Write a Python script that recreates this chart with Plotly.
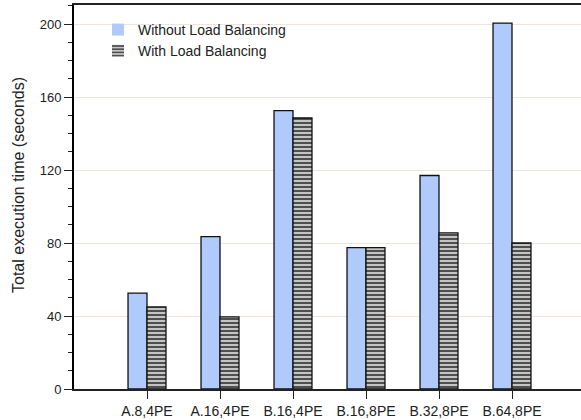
import plotly.graph_objects as go

categories = ["A.8,4PE", "A.16,4PE", "B.16,4PE", "B.16,8PE", "B.32,8PE", "B.64,8PE"]
without_lb = [52.5, 83.5, 152.5, 77.5, 117, 200.5]
with_lb = [45, 39.5, 148.5, 77.5, 85.5, 80]
positions = [1, 2, 3, 4, 5, 6]

FONT = "Liberation Sans, Arial, Helvetica, sans-serif"
BLUE = "#b0cbfb"
HATCH = dict(shape="-", fgcolor="#000000", bgcolor="#c4c4c4", size=4, solidity=0.3, fillmode="replace")
BAR_W = 0.26

fig = go.Figure()
fig.add_trace(go.Bar(
    x=positions, y=without_lb, name="Without Load Balancing", showlegend=False,
    width=BAR_W, offset=-BAR_W,
    marker=dict(color=BLUE, line=dict(color="#111111", width=1.3)),
))
fig.add_trace(go.Bar(
    x=positions, y=with_lb, name="With Load Balancing", showlegend=False,
    width=BAR_W, offset=0,
    marker=dict(color="#c4c4c4", line=dict(color="#111111", width=1.3), pattern=HATCH),
))
# legend-only entries (no outline on swatches, as in the reference)
fig.add_trace(go.Bar(
    x=[None], y=[None], name="Without Load Balancing",
    marker=dict(color=BLUE, line=dict(width=0)),
))
fig.add_trace(go.Bar(
    x=[None], y=[None], name="With Load Balancing",
    marker=dict(color="#c4c4c4", line=dict(width=0), pattern=HATCH),
))

plot_l, plot_t, plot_b = 74, 5, 389
plot_w = 581 - plot_l
plot_h = plot_b - plot_t

fig.update_layout(
    width=581, height=420,
    margin=dict(l=plot_l, r=0, t=plot_t, b=420 - plot_b),
    paper_bgcolor="white", plot_bgcolor="white",
    barmode="overlay",
    font=dict(family=FONT, size=13, color="#222222"),
    showlegend=True,
    legend=dict(x=(98 - plot_l) / plot_w, y=1 - (14 - plot_t) / plot_h, xanchor="left", yanchor="top",
                bgcolor="rgba(0,0,0,0)", font=dict(size=14, color="#222222"),
                tracegroupgap=0, itemwidth=30),
    annotations=[dict(
        text="Total execution time (seconds)", textangle=-90,
        xref="paper", yref="paper",
        x=(18 - plot_l) / plot_w, y=(plot_b - 185) / plot_h,
        xanchor="center", yanchor="middle", showarrow=False,
        font=dict(size=16, color="#222222"),
    )],
)

fig.update_xaxes(
    range=[0, plot_w / 73.0],
    tickmode="array", tickvals=positions, ticktext=categories,
    ticks="outside", ticklen=8, tickcolor="#222222", tickwidth=1,
    showline=True, linecolor="#222222", linewidth=1.5, mirror=True,
    showgrid=False, zeroline=False,
    tickfont=dict(size=14, color="#222222"),
)
fig.update_yaxes(
    range=[0, plot_h / 1.825],
    tickmode="array", tickvals=[0, 40, 80, 120, 160, 200],
    ticks="outside", ticklen=8, tickcolor="#222222", tickwidth=1,
    minor=dict(dtick=10, tick0=0, ticks="outside", ticklen=4, tickcolor="#222222", showgrid=False),
    showline=True, linecolor="#000000", linewidth=2,
    showgrid=True, gridcolor="#efe3df", gridwidth=1.2,
    zeroline=False,
    tickfont=dict(size=13, color="#222222"),
)

fig.write_html("out.html", config={"displayModeBar": False},
               post_script="document.body.style.margin='0';document.body.style.padding='0';")
